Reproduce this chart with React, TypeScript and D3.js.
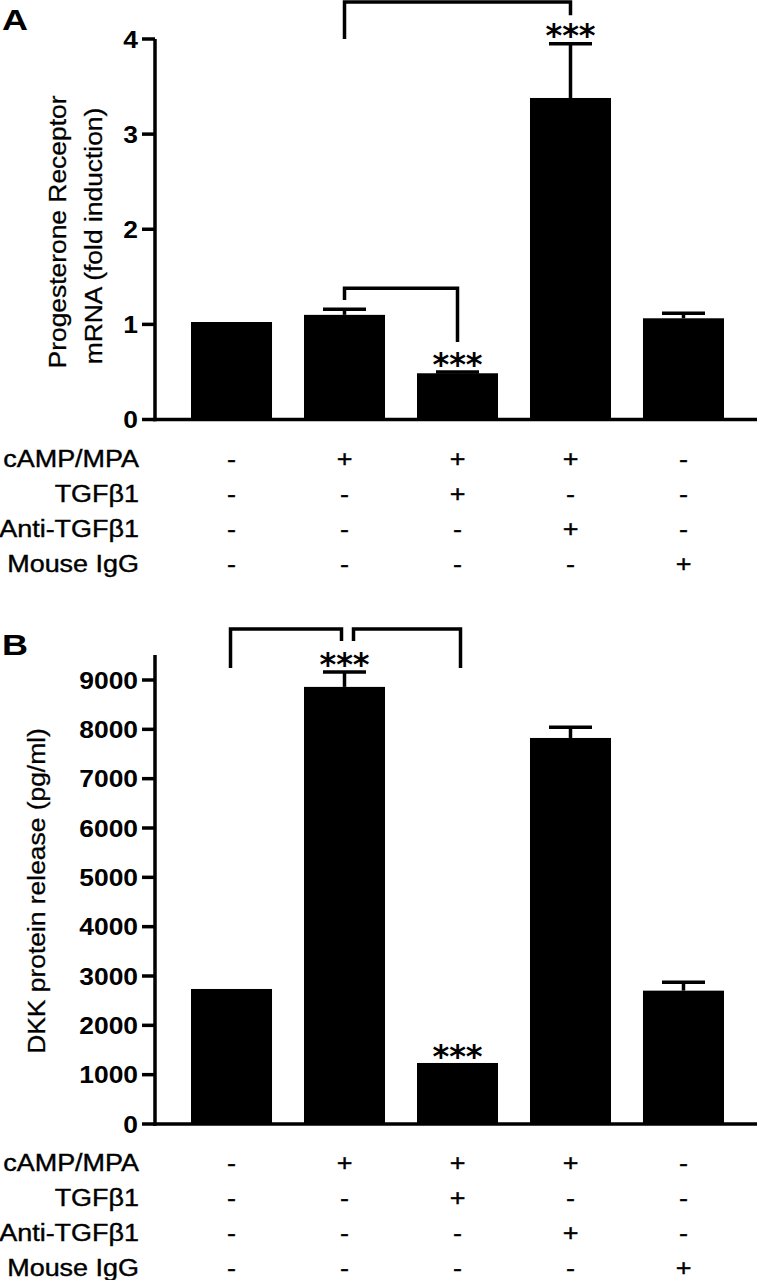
import React from "react";
import * as d3 from "d3";

// ---------- data ----------
const groups = ["g1", "g2", "g3", "g4", "g5"];
const conditionLabels = ["cAMP/MPA", "TGFβ1", "Anti-TGFβ1", "Mouse IgG"];
const conditionSigns = [
  ["-", "+", "+", "+", "-"],
  ["-", "-", "+", "-", "-"],
  ["-", "-", "-", "+", "-"],
  ["-", "-", "-", "-", "+"],
];

const prValues = [1.025, 1.1, 0.486, 3.38, 1.064];
const prErrors = [0, 0.06, 0.014, 0.57, 0.053];
const prTicks = [0, 1, 2, 3, 4];
const prBrackets = [
  { from: 1, to: 3, level: 4.39, fromEnd: 4.0, toEnd: 4.25, fromShift: 0, toShift: 0 },
  { from: 1, to: 2, level: 1.38, fromEnd: 1.256, toEnd: 0.815, fromShift: 0, toShift: 0 },
];
const prStars = [
  { index: 3, value: 4.096 },
  { index: 2, value: 0.636 },
];

const dkkValues = [2737, 8860, 1237, 7825, 2703];
const dkkErrors = [0, 300, 0, 215, 170];
const dkkTicks = [0, 1000, 2000, 3000, 4000, 5000, 6000, 7000, 8000, 9000];
const dkkBrackets = [
  { from: 0, to: 1, level: 10034, fromEnd: 9244, toEnd: 9791, fromShift: -1, toShift: -3 },
  { from: 1, to: 2, level: 10034, fromEnd: 9791, toEnd: 9244, fromShift: 9, toShift: 3 },
];
const dkkStars = [
  { index: 1, value: 9426 },
  { index: 2, value: 1480 },
];

// ---------- layout ----------
const W = 757;
const H = 1280;
const FONT = "'Liberation Sans', Arial, Helvetica, sans-serif";
const AXIS_X = 155;
const LW = 3.5;
const SX = 1.1; // horizontal stretch of the original lettering

const x = d3.scaleBand<string>().domain(groups).range([191, 724]).paddingInner(0.283).paddingOuter(0);
const cx = (i: number) => (x(groups[i]) as number) + x.bandwidth() / 2;

type Bracket = { from: number; to: number; level: number; fromEnd: number; toEnd: number; fromShift: number; toShift: number };
type Star = { index: number; value: number };

function Panel(props: {
  letter: string;
  letterY: number;
  values: number[];
  errors: number[];
  ticks: number[];
  tickFmt: (v: number) => string;
  y: d3.ScaleLinear<number, number>;
  axisTop: number;
  brackets: Bracket[];
  stars: Star[];
  yLabels: { text: string; x: number; y: number }[];
  rowY: number[];
}) {
  const { y } = props;
  const y0 = y(0);
  return (
    <g>
      <text
        transform={`translate(2,${props.letterY}) scale(1.2,1)`}
        fontFamily={FONT}
        fontWeight="bold"
        fontSize={30}
      >
        {props.letter}
      </text>
      {props.yLabels.map((l, i) => (
        <text
          key={i}
          transform={`translate(${l.x},${l.y}) rotate(-90) scale(${SX},1)`}
          textAnchor="middle"
          fontFamily={FONT}
          fontSize={24}
          stroke="#000"
          strokeWidth={0.3}
        >
          {l.text}
        </text>
      ))}
      {/* bars */}
      {props.values.map((v, i) => (
        <rect key={i} x={x(groups[i])} y={y(v)} width={x.bandwidth()} height={y0 - y(v)} fill="#000" />
      ))}
      {/* error bars */}
      {props.values.map((v, i) =>
        props.errors[i] > 0 ? (
          <g key={i} stroke="#000" strokeWidth={LW}>
            <line x1={cx(i)} x2={cx(i)} y1={y(v)} y2={y(v + props.errors[i])} />
            <line x1={cx(i) - 21.5} x2={cx(i) + 21.5} y1={y(v + props.errors[i])} y2={y(v + props.errors[i])} />
          </g>
        ) : null
      )}
      {/* axes */}
      <line x1={AXIS_X} x2={AXIS_X} y1={props.axisTop} y2={y0 + LW / 2} stroke="#000" strokeWidth={LW} />
      <line x1={AXIS_X - LW / 2} x2={W} y1={y0} y2={y0} stroke="#000" strokeWidth={LW} />
      {props.ticks.map((t) => (
        <g key={t}>
          <line x1={142} x2={AXIS_X} y1={y(t)} y2={y(t)} stroke="#000" strokeWidth={LW} />
          <text
            transform={`translate(138,${y(t) + 8.6}) scale(${SX},1)`}
            textAnchor="end"
            fontFamily={FONT}
            fontWeight="bold"
            fontSize={24}
          >
            {props.tickFmt(t)}
          </text>
        </g>
      ))}
      {/* brackets */}
      {props.brackets.map((b, i) => {
        const xa = cx(b.from) + b.fromShift;
        const xb = cx(b.to) + b.toShift;
        const p = d3.path();
        p.moveTo(xa, y(b.fromEnd));
        p.lineTo(xa, y(b.level));
        p.lineTo(xb, y(b.level));
        p.lineTo(xb, y(b.toEnd));
        return <path key={i} d={p.toString()} fill="none" stroke="#000" strokeWidth={LW} strokeLinejoin="miter" />;
      })}
      {/* stars */}
      {props.stars.map((s, i) => (
        <text
          key={i}
          x={cx(s.index)}
          y={y(s.value) + 16}
          textAnchor="middle"
          fontFamily="'DejaVu Sans', sans-serif"
          fontWeight="bold"
          fontSize={32}
        >
          ***
        </text>
      ))}
      {/* condition table */}
      {conditionLabels.map((lab, r) => (
        <g key={lab} fontFamily={FONT} fontSize={24.5} stroke="#000" strokeWidth={0.4}>
          <text transform={`translate(139,${props.rowY[r] + 9}) scale(${SX},1)`} textAnchor="end">
            {lab}
          </text>
          {conditionSigns[r].map((s, c) => (
            <text
              key={c}
              transform={`translate(${cx(c)},${props.rowY[r] + 9}) scale(${SX},1)`}
              textAnchor="middle"
            >
              {s}
            </text>
          ))}
        </g>
      ))}
    </g>
  );
}

export default function App() {
  React.useEffect(() => {
    document.body.style.margin = "0";
  }, []);
  const yA = d3.scaleLinear().domain([0, 4]).range([419.5, 39]);
  const yB = d3.scaleLinear().domain([0, 9000]).range([1124, 680]);
  return (
    <svg width={W} height={H} style={{ display: "block", background: "#fff" }}>
      <Panel
        letter="A"
        letterY={30}
        values={prValues}
        errors={prErrors}
        ticks={prTicks}
        tickFmt={(v) => String(v)}
        y={yA}
        axisTop={yA(4)}
        brackets={prBrackets}
        stars={prStars}
        yLabels={[
          { text: "Progesterone Receptor", x: 66, y: 232 },
          { text: "mRNA (fold induction)", x: 102, y: 236 },
        ]}
        rowY={[458, 493, 528, 563]}
      />
      <Panel
        letter="B"
        letterY={655}
        values={dkkValues}
        errors={dkkErrors}
        ticks={dkkTicks}
        tickFmt={(v) => String(v)}
        y={yB}
        axisTop={655}
        brackets={dkkBrackets}
        stars={dkkStars}
        yLabels={[{ text: "DKK protein release (pg/ml)", x: 45, y: 891 }]}
        rowY={[1162, 1197, 1232, 1267]}
      />
    </svg>
  );
}
